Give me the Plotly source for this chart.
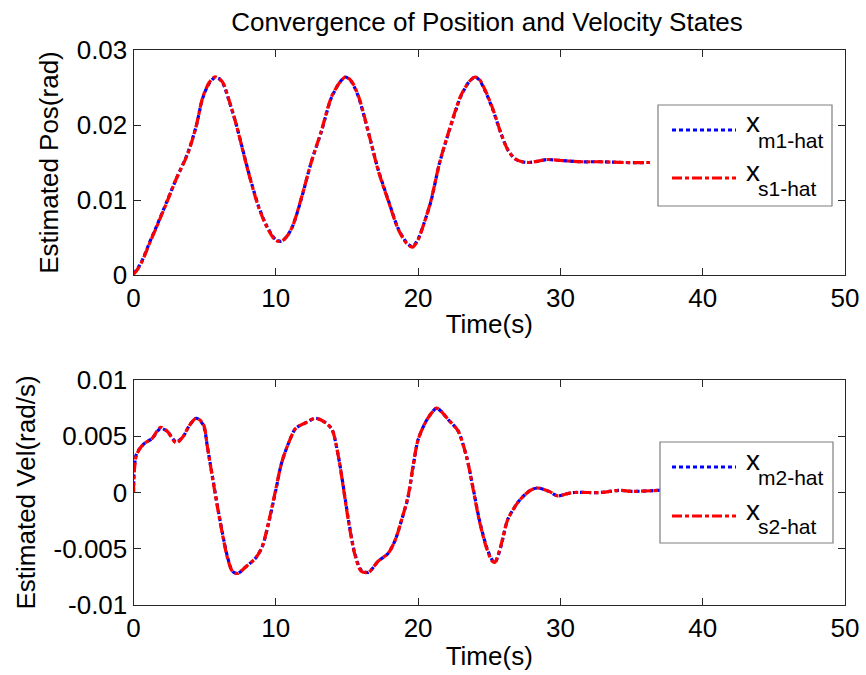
import plotly.graph_objects as go

# ---------------- data ----------------
t_pos = [0, 0.3, 0.65, 1.1, 1.6, 2.3, 3.0, 3.8, 4.4, 4.85, 5.3, 5.7, 6.0, 6.3, 6.7,
         7.2, 7.8, 8.2, 8.8, 9.4, 10.0, 10.4, 10.8, 11.2, 11.8, 12.5, 13.2, 13.9,
         14.5, 14.9, 15.3, 15.8, 16.2, 16.7, 17.2, 17.9, 18.6, 19.2, 19.6, 20.0,
         20.4, 20.9, 21.5, 22.2, 23.0, 23.6, 24.0, 24.3, 24.7, 25.3, 25.8, 26.3,
         26.8, 27.3, 27.8, 28.5, 29.1, 29.8, 30.5, 31.5, 32.8, 34.5, 36.3]
x_m1_hat = [0.0002, 0.0009, 0.0021, 0.0042, 0.0064, 0.0096, 0.0128, 0.0162, 0.0198,
            0.0235, 0.0255, 0.0263, 0.0262, 0.0255, 0.0233, 0.0202, 0.0158, 0.0129,
            0.0091, 0.0064, 0.0047, 0.0045, 0.0052, 0.0066, 0.0102, 0.0151, 0.0191,
            0.0236, 0.0257, 0.0264, 0.0258, 0.0238, 0.0212, 0.0176, 0.0140, 0.0100,
            0.0062, 0.0043, 0.0038, 0.0048, 0.0068, 0.0098, 0.0149, 0.0193, 0.0238,
            0.0258, 0.0264, 0.0260, 0.0246, 0.0218, 0.0190, 0.0167, 0.0155, 0.0151,
            0.0150, 0.0152, 0.0154, 0.0153, 0.0152, 0.0151, 0.0151, 0.0150, 0.0150]
x_s1_hat = [0.0001, 0.0008, 0.0020, 0.0041, 0.0063, 0.0095, 0.0128, 0.0161, 0.0198,
            0.0236, 0.0256, 0.0264, 0.0262, 0.0256, 0.0234, 0.0202, 0.0157, 0.0128,
            0.0090, 0.0063, 0.0046, 0.0045, 0.0052, 0.0066, 0.0103, 0.0151, 0.0192,
            0.0237, 0.0257, 0.0264, 0.0259, 0.0239, 0.0213, 0.0176, 0.0139, 0.0099,
            0.0061, 0.0042, 0.0037, 0.0047, 0.0068, 0.0099, 0.0149, 0.0194, 0.0239,
            0.0258, 0.0264, 0.0261, 0.0247, 0.0219, 0.0190, 0.0167, 0.0155, 0.0151,
            0.0150, 0.0152, 0.0154, 0.0153, 0.0152, 0.0151, 0.0151, 0.0150, 0.0150]

t_vel = [0, 0.05, 0.2, 0.5, 0.8, 1.3, 1.9, 2.4, 3.0, 3.5, 3.9, 4.4, 4.9, 5.2, 5.55,
         5.9, 6.25, 6.6, 6.95, 7.3, 7.9, 8.6, 9.05, 9.5, 10.0, 10.4, 10.9, 11.4,
         12.1, 12.8, 13.5, 13.95, 14.4, 14.75, 15.1, 15.55, 16.0, 16.5, 17.2, 17.9,
         18.4, 18.85, 19.3, 19.65, 20.0, 20.5, 20.9, 21.3, 21.7, 22.1, 22.8, 23.4,
         23.85, 24.3, 24.8, 25.2, 25.4, 25.8, 26.3, 27.0, 27.5, 27.9, 28.4, 29.2,
         29.8, 30.5, 31.0, 32.8, 34.2, 35.0, 37.0]
x_m2_hat = [0.0, 0.0020, 0.0034, 0.0040, 0.0044, 0.0048, 0.0057, 0.0054, 0.0045,
            0.0050, 0.0059, 0.0066, 0.0060, 0.0040, 0.0014, -0.0012, -0.0036,
            -0.0057, -0.0070, -0.0072, -0.0066, -0.0058, -0.0048, -0.0027, 0.0002,
            0.0026, 0.0044, 0.0057, 0.0062, 0.0066, 0.0062, 0.0056, 0.0032, 0.0005,
            -0.0024, -0.0054, -0.0069, -0.0071, -0.0061, -0.0054, -0.0042, -0.0024,
            -0.0004, 0.0023, 0.0047, 0.0062, 0.0070, 0.0075, 0.0071, 0.0065, 0.0055,
            0.0032, 0.0005, -0.0024, -0.0048, -0.0060, -0.0062, -0.0049, -0.0024,
            -0.0009, -0.0002, 0.0002, 0.0004, 0.0001, -0.0003, -0.0001, 0.0, 0.0,
            0.0002, 0.0001, 0.0002]
x_s2_hat = [0.0, 0.0018, 0.0033, 0.0040, 0.0044, 0.0048, 0.0058, 0.0054, 0.0044,
            0.0050, 0.0059, 0.0066, 0.0061, 0.0040, 0.0013, -0.0013, -0.0037,
            -0.0058, -0.0070, -0.0072, -0.0066, -0.0058, -0.0048, -0.0026, 0.0003,
            0.0026, 0.0044, 0.0057, 0.0062, 0.0066, 0.0062, 0.0056, 0.0032, 0.0004,
            -0.0025, -0.0055, -0.0070, -0.0071, -0.0061, -0.0054, -0.0042, -0.0024,
            -0.0003, 0.0024, 0.0047, 0.0062, 0.0070, 0.0075, 0.0071, 0.0065, 0.0055,
            0.0032, 0.0004, -0.0025, -0.0049, -0.0061, -0.0062, -0.0048, -0.0024,
            -0.0009, -0.0002, 0.0002, 0.0004, 0.0001, -0.0003, -0.0001, 0.0, 0.0,
            0.0002, 0.0001, 0.0002]

x_ticks = [0, 10, 20, 30, 40, 50]
pos_ticks = [0, 0.01, 0.02, 0.03]
pos_tick_labels = ["0", "0.01", "0.02", "0.03"]
vel_ticks = [-0.01, -0.005, 0, 0.005, 0.01]
vel_tick_labels = ["-0.01", "-0.005", "0", "0.005", "0.01"]

# ---------------- styling ----------------
W, H = 866, 675
FONT = "Liberation Sans, Arial, sans-serif"
AX = "#262626"
BLUE, RED = "#0000ff", "#ff0000"
DOT = "4px,3px"
DASHDOT = "10px,3px,4px,3px"

def px_x(p):
    return p / W

def px_y(p):
    return 1 - p / H

x_dom = [px_x(133.5), px_x(845)]

fig = go.Figure()
fig.add_trace(go.Scatter(x=t_pos, y=x_m1_hat, mode="lines", name="x_m1-hat",
                         line=dict(color=BLUE, width=3.2, dash=DOT, shape="spline", smoothing=0.8),
                         xaxis="x", yaxis="y", showlegend=False))
fig.add_trace(go.Scatter(x=t_pos, y=x_s1_hat, mode="lines", name="x_s1-hat",
                         line=dict(color=RED, width=3.2, dash=DASHDOT, shape="spline", smoothing=0.8),
                         xaxis="x", yaxis="y", showlegend=False))
fig.add_trace(go.Scatter(x=t_vel, y=x_m2_hat, mode="lines", name="x_m2-hat",
                         line=dict(color=BLUE, width=3.2, dash=DOT, shape="spline", smoothing=0.8),
                         xaxis="x2", yaxis="y2", showlegend=False))
fig.add_trace(go.Scatter(x=t_vel, y=x_s2_hat, mode="lines", name="x_s2-hat",
                         line=dict(color=RED, width=3.2, dash=DASHDOT, shape="spline", smoothing=0.8),
                         xaxis="x2", yaxis="y2", showlegend=False))

common = dict(showline=True, linecolor=AX, linewidth=1, mirror="ticks", ticks="inside",
              ticklen=7, tickcolor=AX, showgrid=False, zeroline=False, automargin=False,
              tickfont=dict(family=FONT, size=26, color="black"))
title_font = dict(family=FONT, size=26, color="black")

fig.update_layout(
    width=W, height=H, margin=dict(l=0, r=0, t=0, b=0, autoexpand=False),
    paper_bgcolor="white", plot_bgcolor="white",
    title=dict(text="Convergence of Position and Velocity States",
               x=px_x(487), xanchor="center", y=px_y(22), yanchor="middle",
               font=dict(family=FONT, size=26, color="black"), automargin=False),
    xaxis=dict(domain=x_dom, range=[0, 50], tickvals=x_ticks, anchor="y",
               title=dict(text="Time(s)", font=title_font, standoff=2), **common),
    yaxis=dict(domain=[px_y(275), px_y(50)], range=[0, 0.03], tickvals=pos_ticks,
               ticktext=pos_tick_labels, anchor="x",
               title=dict(text="Estimated Pos(rad)", font=title_font, standoff=10), **common),
    xaxis2=dict(domain=x_dom, range=[0, 50], tickvals=x_ticks, anchor="y2",
                title=dict(text="Time(s)", font=title_font, standoff=4), **common),
    yaxis2=dict(domain=[px_y(605), px_y(380)], range=[-0.01, 0.01], tickvals=vel_ticks,
                ticktext=vel_tick_labels, anchor="x2",
                title=dict(text="Estimated Vel(rad/s)", font=title_font, standoff=10), **common),
)

# ---------------- legends (boxed, as in the original) ----------------
def legend(box, entries):
    x0, y0, x1, y1 = box
    fig.add_shape(type="rect", xref="paper", yref="paper",
                  x0=px_x(x0), x1=px_x(x1), y0=px_y(y1), y1=px_y(y0),
                  line=dict(color="#7f7f7f", width=1.2), fillcolor="white", layer="above")
    for (ly, color, dash, main, sub, yb_main, yb_sub) in entries:
        fig.add_shape(type="line", xref="paper", yref="paper",
                      x0=px_x(672), x1=px_x(736), y0=px_y(ly), y1=px_y(ly),
                      line=dict(color=color, width=3, dash=dash), layer="above")
        fig.add_annotation(text=main, xref="paper", yref="paper", x=px_x(745),
                           y=px_y(yb_main), xanchor="left", yanchor="bottom",
                           showarrow=False, font=dict(family=FONT, size=28, color="black"),
                           borderpad=0)
        fig.add_annotation(text=sub, xref="paper", yref="paper", x=px_x(757),
                           y=px_y(yb_sub), xanchor="left", yanchor="bottom",
                           showarrow=False, font=dict(family=FONT, size=21, color="black"),
                           borderpad=0)

legend((658, 105, 832, 206),
       [(130, BLUE, DOT, "x", "m1-hat", 139, 153),
        (178, RED, DASHDOT, "x", "s1-hat", 188, 201)])
legend((660, 442, 833, 543),
       [(467, BLUE, DOT, "x", "m2-hat", 477, 490),
        (516, RED, DASHDOT, "x", "s2-hat", 527, 539)])

fig.write_html("out.html", config={"displayModeBar": False},
               post_script="document.body.style.margin='0px';document.body.style.overflow='hidden';")
